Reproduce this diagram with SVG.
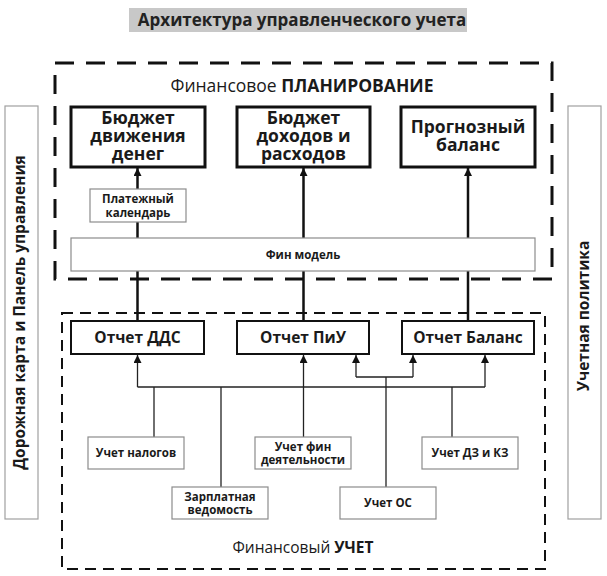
<svg xmlns="http://www.w3.org/2000/svg" width="607" height="576" viewBox="0 0 607 576">
<defs>
<marker id="ah" viewBox="0 0 10 10" refX="10" refY="5" markerWidth="11" markerHeight="8" markerUnits="userSpaceOnUse" orient="auto">
<path d="M0,0 L10,5 L0,10 z" fill="#111"/>
</marker>
<marker id="as" viewBox="0 0 10 10" refX="10" refY="5" markerWidth="11" markerHeight="8" markerUnits="userSpaceOnUse" orient="auto">
<path d="M0,0 L10,5 L0,10 z" fill="#111"/>
</marker>
</defs>
<style>
text{font-family:"Open Sans","Noto Sans","DejaVu Sans",sans-serif;fill:#1a1a1a;text-anchor:middle}
.big{font-size:17.5px;font-weight:bold}
.rep{font-size:15.5px;font-weight:bold}
.sm{font-size:11.5px;font-weight:bold}
.side{font-size:15.5px;font-weight:bold}
.head{font-size:17.5px}
.thick{fill:#fff;stroke:#111;stroke-width:3}
.mid{fill:#fff;stroke:#111;stroke-width:2}
.thin{fill:#fff;stroke:#8c8c8c;stroke-width:1.2}
.bar{fill:#fff;stroke:#a0a0a0;stroke-width:1.2}
.c1{fill:none;stroke:#111;stroke-width:2.5}
.c2{fill:none;stroke:#222;stroke-width:1.3}
</style>
<rect width="607" height="576" fill="#fff"/>

<g id="title">
<rect x="129" y="8" width="338" height="24" fill="#c8c8c8"/>
<text x="302" y="26" style="font-size:17px;font-weight:bold;fill:#222">Архитектура управленческого учета</text>
</g>

<g id="planning-area">
<rect x="55" y="63" width="497" height="216" fill="none" stroke="#111" stroke-width="3" stroke-dasharray="19 12"/>
<text x="302" y="92" class="head">Финансовое <tspan font-weight="bold">ПЛАНИРОВАНИЕ</tspan></text>
</g>

<g id="accounting-area">
<rect x="62" y="313" width="483" height="256" fill="none" stroke="#111" stroke-width="2" stroke-dasharray="11 7"/>
<text x="303" y="553" style="font-size:15.5px">Финансовый <tspan font-weight="bold">УЧЕТ</tspan></text>
</g>

<g id="roadmap">
<rect x="5" y="106" width="33" height="413" class="bar"/>
<text class="side" transform="translate(25,312.5) rotate(-90)">Дорожная карта и Панель управления</text>
</g>

<g id="policy">
<rect x="568" y="106" width="33" height="413" class="bar"/>
<text class="side" transform="translate(589,316) rotate(-90)">Учетная политика</text>
</g>

<g id="connectors">
<path class="c1" d="M137.5,321 V168" marker-end="url(#ah)"/>
<path class="c1" d="M303.5,321 V168" marker-end="url(#ah)"/>
<path class="c1" d="M468,321 V168" marker-end="url(#ah)"/>
<path class="c2" d="M137.5,387 H485"/>
<path class="c2" d="M137.5,387 V355" marker-end="url(#as)"/>
<path class="c2" d="M485,387 V355" marker-end="url(#as)"/>
<path class="c2" d="M154,437 V387"/>
<path class="c2" d="M221,487 V387"/>
<path class="c2" d="M452,437 V387"/>
<path class="c2" d="M303.5,437 V355" marker-end="url(#as)"/>
<path class="c2" d="M386,487 V377 M356,377 H413"/>
<path class="c2" d="M356,377 V355" marker-end="url(#as)"/>
<path class="c2" d="M413,377 V355" marker-end="url(#as)"/>
</g>

<g id="budget-cash">
<rect x="71" y="107" width="134" height="60" class="thick"/>
<text class="big"><tspan x="138" y="124">Бюджет</tspan><tspan x="138" y="142">движения</tspan><tspan x="138" y="160">денег</tspan></text>
</g>

<g id="budget-pl">
<rect x="237" y="107" width="133" height="60" class="thick"/>
<text class="big"><tspan x="303.5" y="124">Бюджет</tspan><tspan x="303.5" y="142">доходов и</tspan><tspan x="303.5" y="160">расходов</tspan></text>
</g>

<g id="forecast-balance">
<rect x="401" y="107" width="134" height="60" class="thick"/>
<text class="big"><tspan x="468" y="133">Прогнозный</tspan><tspan x="468" y="151">баланс</tspan></text>
</g>

<g id="payment-calendar">
<rect x="90" y="189" width="96" height="33" class="thin"/>
<text class="sm"><tspan x="138" y="203">Платежный</tspan><tspan x="138" y="217">календарь</tspan></text>
</g>

<g id="fin-model">
<rect x="71" y="238" width="464" height="33" class="thin"/>
<text x="303" y="259" class="sm">Фин модель</text>
</g>

<g id="report-dds">
<rect x="71" y="321" width="133" height="33" class="mid"/>
<text x="137.5" y="343" class="rep">Отчет ДДС</text>
</g>

<g id="report-piu">
<rect x="237" y="321" width="132" height="33" class="mid"/>
<text x="303" y="343" class="rep">Отчет ПиУ</text>
</g>

<g id="report-balance">
<rect x="402" y="321" width="132" height="33" class="mid"/>
<text x="468" y="343" class="rep">Отчет Баланс</text>
</g>

<g id="tax">
<rect x="88" y="437" width="96" height="32" class="thin"/>
<text x="136" y="457" class="sm">Учет налогов</text>
</g>

<g id="fin-activity">
<rect x="255" y="437" width="96" height="32" class="thin"/>
<text class="sm"><tspan x="303" y="451">Учет фин</tspan><tspan x="303" y="464">деятельности</tspan></text>
</g>

<g id="receivables">
<rect x="422" y="437" width="96" height="32" class="thin"/>
<text x="470" y="457" class="sm">Учет ДЗ и КЗ</text>
</g>

<g id="payroll">
<rect x="172" y="487" width="96" height="32" class="thin"/>
<text class="sm"><tspan x="220" y="501">Зарплатная</tspan><tspan x="220" y="514">ведомость</tspan></text>
</g>

<g id="fixed-assets">
<rect x="340" y="487" width="96" height="32" class="thin"/>
<text x="388" y="507" class="sm">Учет ОС</text>
</g>
</svg>
